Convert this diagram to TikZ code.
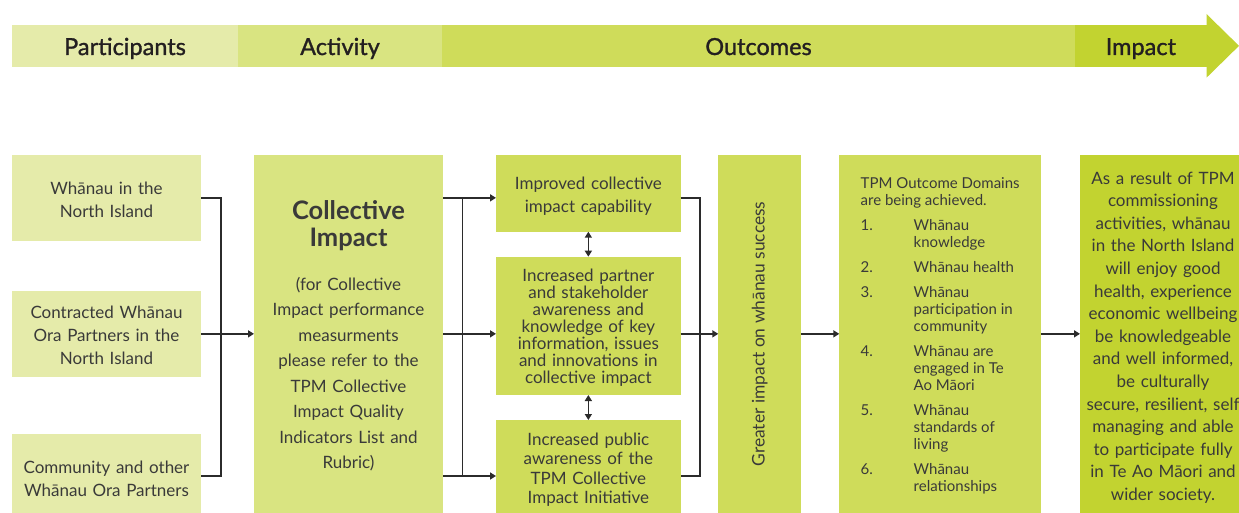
\documentclass[tikz,border=0pt]{standalone}
\usepackage{fontspec}
\setmainfont{Lato}
\newfontfamily\hdrfont[FakeBold=1.2]{Lato}
\usepackage{graphicx}
\usetikzlibrary{arrows.meta}
\definecolor{cPart}{HTML}{E5EBAA}
\definecolor{cAct}{HTML}{D9E481}
\definecolor{cOut}{HTML}{CFDC5A}
\definecolor{cImp}{HTML}{C2D330}
\definecolor{cTxt}{HTML}{3A3A39}
\definecolor{cHdr}{HTML}{231F20}
\definecolor{cLine}{HTML}{2B2B2B}
\newcommand{\lift}[1]{\rule{0pt}{#1}}
\begin{document}
\begin{tikzpicture}[x=1pt,y=-1pt,
  box/.style={anchor=north west, inner sep=0pt, outer sep=0pt, draw=none, text=cTxt},
  tbox/.style={box, align=center},
  hdr/.style={box, align=center, minimum height=41.7pt, text height=18.3pt, text depth=0pt,
    font=\hdrfont\fontsize{23.5}{26}\selectfont, text=cHdr},
  body/.style={font=\fontsize{17}{#1}\selectfont},
  conn/.style={draw=cLine, line width=1.6pt},
  arr/.style={conn, -{Triangle[length=6pt,width=7pt]}},
  darr/.style={conn, {Triangle[length=6pt,width=7pt]}-{Triangle[length=6pt,width=7pt]}},
]
\useasboundingbox (0,0) rectangle (1239,513);
% header band
\node[hdr, fill=cPart, minimum width=226pt] (hp) at (12,25) {Participants};
\node[hdr, fill=cAct, minimum width=204pt] (ha) at (238,25) {Activity};
\node[hdr, fill=cOut, minimum width=633pt] (ho) at (442,25) {Outcomes};
\node[hdr, fill=cImp, minimum width=131.7pt] (hi) at (1075,25) {Impact};
\fill[cImp] (1206.5,14) -- (1239,45.85) -- (1206.5,77.7) -- cycle;
% participants
\node[tbox, fill=cPart, minimum width=189pt, minimum height=85.7pt, text width=189pt, body=23] (p1) at (12,155) {\lift{16.5pt}Whānau in the\\North Island};
\node[tbox, fill=cPart, minimum width=189pt, minimum height=85.7pt, text width=189pt, body=23] (p2) at (12,291) {\lift{14.5pt}Contracted Whānau\\Ora Partners in the\\North Island};
\node[tbox, fill=cPart, minimum width=189pt, minimum height=84pt, text width=189pt, body=23] (p3) at (12,434) {\lift{18.5pt}Community and other\\Whānau Ora Partners};
% activity
\node[tbox, fill=cAct, minimum width=189pt, minimum height=358pt, text width=189pt, body=25.5] (ci) at (254,155)
  {{\fontsize{25.5}{27}\selectfont\bfseries \lift{23pt}Collective\\Impact\par}\vspace{17.8pt}(for Collective\\Impact performance\\measurments\\please refer to the\\TPM Collective\\Impact Quality\\Indicators List and\\Rubric)};
% outcomes
\node[tbox, fill=cOut, minimum width=184.7pt, minimum height=76.7pt, text width=184.7pt, body=23.7] (ma) at (496,155) {\lift{18.5pt}Improved collective\\impact capability};
\node[tbox, fill=cOut, minimum width=184.7pt, minimum height=138.3pt, text width=184.7pt, body=17] (mb) at (496,256.7) {\lift{16.5pt}Increased partner\\and stakeholder\\awareness and\\knowledge of key\\information, issues\\and innovations in\\collective impact};
\node[tbox, fill=cOut, minimum width=184.7pt, minimum height=93pt, text width=184.7pt, body=19.5] (mc) at (496,420) {\lift{18.5pt}Increased public\\awareness of the\\TPM Collective\\Impact Initiative};
\node[box, fill=cOut, minimum width=82.7pt, minimum height=358pt, font=\fontsize{17.4}{20}\selectfont] (gr) at (718.3,155) {\raisebox{0pt}[\height][\depth]{\rotatebox{90}{Greater impact on whānau success\rule{0pt}{0pt}}}};
\node[box, fill=cOut, minimum width=201.7pt, minimum height=358pt, font=\fontsize{15}{17}\selectfont] (dm) at (839.3,155)
  {\raisebox{-2.5pt}[\height][\depth]{\begin{tabular}{@{}p{53pt}@{}l@{}}
   \multicolumn{2}{@{}l@{}}{TPM Outcome Domains}\\
   \multicolumn{2}{@{}l@{}}{are being achieved.}\\[8pt]
   1. & Whānau\\
      & knowledge\\[8pt]
   2. & Whānau health\\[8pt]
   3. & Whānau\\
      & participation in\\
      & community\\[8pt]
   4. & Whānau are\\
      & engaged in Te\\
      & Ao Māori\\[8pt]
   5. & Whānau\\
      & standards of\\
      & living\\[8pt]
   6. & Whānau\\
      & relationships
   \end{tabular}}};
% impact
\node[tbox, fill=cImp, minimum width=166pt, minimum height=358pt, text width=166pt, body=22.6] (im) at (1080,155) {\lift{19.5pt}As a result of TPM\\commissioning\\activities, whānau\\in the North Island\\will enjoy good\\health, experience\\economic wellbeing\\be knowledgeable\\and well informed,\\be culturally\\secure, resilient, self\\managing and able\\to participate fully\\in Te Ao Māori and\\wider society.};
% connectors
\coordinate (jl) at (220.7,333.85);
\coordinate (jm) at (462.3,333.85);
\coordinate (jr) at (700,333.85);
\draw[conn] (p1.east) -| (jl) |- (p3.east);
\draw[arr] (p2.east) -- (ci.west |- p2.east);
\draw[conn] (jm |- p1.east) -- (jm |- p3.east);
\draw[arr] (ci.east |- p1.east) -- (ma.west |- p1.east);
\draw[arr] (ci.east |- p2.east) -- (mb.west |- p2.east);
\draw[arr] (ci.east |- p3.east) -- (mc.west |- p3.east);
\draw[conn] (ma.east |- p1.east) -| (jr) |- (mc.east |- p3.east);
\draw[arr] (mb.east |- p2.east) -- (gr.west |- p2.east);
\draw[arr] (gr.east |- p2.east) -- (dm.west |- p2.east);
\draw[arr] (dm.east |- p2.east) -- (im.west |- p2.east);
\draw[darr] (ma.south) -- (mb.north);
\draw[darr] (mb.south) -- (mc.north);
\end{tikzpicture}
\end{document}
